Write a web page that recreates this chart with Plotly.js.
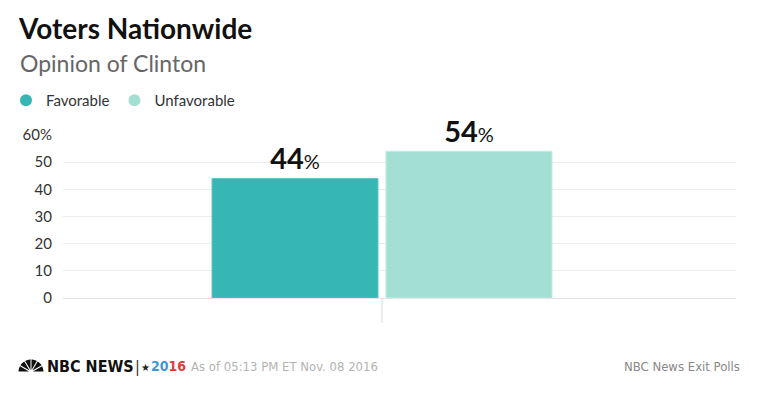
<!DOCTYPE html>
<html>
<head>
<meta charset="utf-8">
<script src="https://cdn.plot.ly/plotly-3.0.1.min.js"></script>
<style>html,body{margin:0;padding:0;background:#fff;}#chart{width:760px;height:399px;}</style>
</head>
<body>
<div id="chart"></div>
<script>
// ---- data ----
var category = ['Clinton'];
var seriesNames = ['Favorable', 'Unfavorable'];
var favorable = [44];
var unfavorable = [54];
var yTickVals = [0, 10, 20, 30, 40, 50, 60];
var yTickText = ['0', '10', '20', '30', '40', '50', '60%'];

// ---- layout geometry ----
var W = 760, H = 399;
var M = {l: 63, r: 24, t: 135, b: 101};
var PW = W - M.l - M.r, PH = H - M.t - M.b;
function px(x) { return (x - M.l) / PW; }
function py(y) { return (H - M.b - y) / PH; }

var colFav = '#36b6b4', colUnf = '#a4dfd4';
var txtTpl = "<b>%{y}</b><span style='font-size:20px;font-weight:normal'>%</span>";
var condensed = '"Liberation Sans Narrow", "DejaVu Sans Condensed", sans-serif';

var traces = [
  {type: 'bar', x: category, y: favorable, name: seriesNames[0], legendgroup: 'f', showlegend: false,
   marker: {color: colFav, line: {color: '#5ec6c4', width: 1}},
   texttemplate: txtTpl, textposition: 'outside', cliponaxis: false,
   textfont: {family: 'Lato, "Open Sans", sans-serif', size: 29, color: '#111'}, hoverinfo: 'skip'},
  {type: 'bar', x: category, y: unfavorable, name: seriesNames[1], legendgroup: 'u', showlegend: false,
   marker: {color: colUnf, line: {color: '#c0ebe3', width: 1}},
   texttemplate: txtTpl, textposition: 'outside', cliponaxis: false,
   textfont: {family: 'Lato, "Open Sans", sans-serif', size: 29, color: '#111'}, hoverinfo: 'skip'},
  // legend entries (circle symbols)
  {type: 'scatter', mode: 'markers', x: [null], y: [null], name: seriesNames[0], legendgroup: 'f',
   marker: {color: colFav, size: 12, symbol: 'circle'}},
  {type: 'scatter', mode: 'markers', x: [null], y: [null], name: seriesNames[1], legendgroup: 'u',
   marker: {color: colUnf, size: 12, symbol: 'circle'}}
];

// peacock logo shapes (decorative)
var shapes = [];
(function () {
  var cx = 31, cy = 372, n = 6;
  for (var i = 0; i < n; i++) {
    var a0 = Math.PI - i * Math.PI / n - 0.04, a1 = Math.PI - (i + 1) * Math.PI / n + 0.04;
    var r = 12.5;
    var pts = [[cx + 2 * Math.cos((a0 + a1) / 2), cy - 2 * Math.sin((a0 + a1) / 2)]];
    for (var k = 0; k <= 6; k++) {
      var a = a0 + (a1 - a0) * k / 6;
      pts.push([cx + r * Math.cos(a), cy - r * Math.sin(a)]);
    }
    var d = 'M' + pts.map(function (p) { return px(p[0]).toFixed(5) + ',' + py(p[1]).toFixed(5); }).join(' L') + ' Z';
    shapes.push({type: 'path', xref: 'paper', yref: 'paper', path: d, fillcolor: '#111', line: {width: 0}});
  }
})();

var layout = {
  width: W, height: H,
  margin: M,
  paper_bgcolor: '#fff', plot_bgcolor: '#fff',
  font: {family: 'Lato, "Open Sans", sans-serif', color: '#333'},
  title: {text: '<b>Voters Nationwide</b>', xref: 'container', yref: 'container', x: 19 / W, xanchor: 'left',
          y: 1 - 29 / H, yanchor: 'middle', font: {family: 'Lato, "Open Sans", sans-serif', size: 28, color: '#111'}},
  showlegend: true,
  legend: {orientation: 'h', xref: 'container', yref: 'container', x: 6 / W, xanchor: 'left',
           y: 1 - 84 / H, yanchor: 'top', font: {size: 15, color: '#333'}, itemwidth: 30,
           bgcolor: 'rgba(0,0,0,0)', traceorder: 'normal'},
  barmode: 'group', bargap: 0.483, bargroupgap: 0.046,
  xaxis: {type: 'category', range: [-(382 - M.l) / PW, 1 - (382 - M.l) / PW], showticklabels: false,
          ticks: 'outside', ticklen: 24, tickwidth: 2, tickcolor: '#ececec', showgrid: false,
          zeroline: false, showline: false, fixedrange: true},
  yaxis: {range: [0, 60], tickvals: yTickVals, ticktext: yTickText, showgrid: true, gridcolor: '#ececec',
          gridwidth: 1, zeroline: true, zerolinecolor: '#e4e4e4', zerolinewidth: 1, showline: false,
          ticks: '', ticklabelstandoff: 10, tickfont: {size: 15, color: '#333'}, fixedrange: true},
  shapes: shapes,
  annotations: [
    {text: 'Opinion of Clinton', xref: 'paper', yref: 'paper', x: px(18), y: py(63), xanchor: 'left', yanchor: 'middle',
     showarrow: false, font: {size: 23, color: '#666'}},
    {text: '<b>NBC NEWS</b>', xref: 'paper', yref: 'paper', x: px(45), y: py(366), xanchor: 'left', yanchor: 'middle',
     showarrow: false, font: {family: condensed, size: 16, color: '#111'}},
    {text: '|', xref: 'paper', yref: 'paper', x: px(133), y: py(366), xanchor: 'left', yanchor: 'middle',
     showarrow: false, font: {family: condensed, size: 16, color: '#333'}},
    {text: '★', xref: 'paper', yref: 'paper', x: px(139), y: py(367), xanchor: 'left', yanchor: 'middle',
     showarrow: false, font: {family: 'DejaVu Sans, sans-serif', size: 10, color: '#222'}},
    {text: "<b><span style='color:#3a9ad9'>20</span><span style='color:#e23b3b'>16</span></b>", xref: 'paper', yref: 'paper',
     x: px(149), y: py(366), xanchor: 'left', yanchor: 'middle',
     showarrow: false, font: {family: condensed, size: 14, color: '#111'}},
    {text: 'As of 05:13 PM ET Nov. 08 2016', xref: 'paper', yref: 'paper', x: px(189), y: py(366), xanchor: 'left', yanchor: 'middle',
     showarrow: false, font: {family: condensed, size: 13, color: '#b3b3b3'}},
    {text: 'NBC News Exit Polls', xref: 'paper', yref: 'paper', x: px(742), y: py(366), xanchor: 'right', yanchor: 'middle',
     showarrow: false, font: {family: condensed, size: 13, color: '#888'}}
  ]
};

Plotly.newPlot('chart', traces, layout, {displayModeBar: false, staticPlot: true});
</script>
</body>
</html>
